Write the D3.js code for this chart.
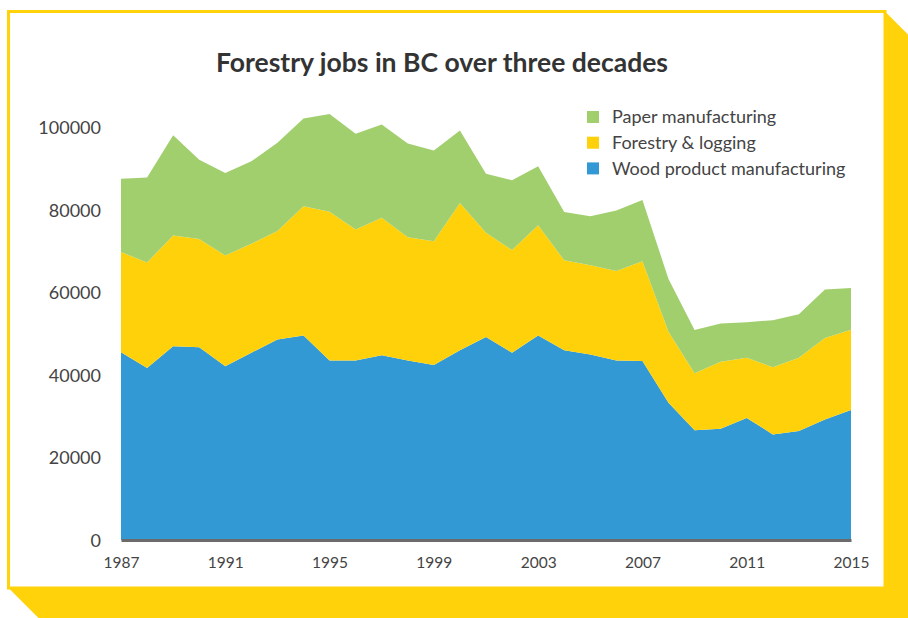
<!DOCTYPE html>
<html>
<head>
<meta charset="utf-8">
<script src="https://cdn.jsdelivr.net/npm/d3@7"></script>
<style>
  body { margin: 0; background: #fff; }
  svg { display: block; }
</style>
</head>
<body>
<div id="chart"></div>
<script>
// data
const years = [1987, 1988, 1989, 1990, 1991, 1992, 1993, 1994, 1995, 1996, 1997, 1998, 1999, 2000,
  2001, 2002, 2003, 2004, 2005, 2006, 2007, 2008, 2009, 2010, 2011, 2012, 2013, 2014, 2015];
const wood = [45500, 41700, 47000, 46700, 42100, 45400, 48600, 49600, 43500, 43500, 44800, 43500, 42400, 46000,
  49200, 45400, 49600, 46000, 45000, 43500, 43400, 33300, 26600, 27000, 29600, 25600, 26400, 29200, 31500];
const forestry = [24300, 25600, 26800, 26300, 26900, 26400, 26300, 31300, 36100, 31800, 33300, 29900, 30000, 35700,
  25300, 24900, 26700, 21800, 21600, 21700, 24200, 17200, 13800, 16200, 14600, 16300, 17800, 19800, 19500];
const paper = [17800, 20600, 24300, 19200, 20000, 20000, 21400, 21300, 23700, 23200, 22600, 22700, 22000, 17600,
  14300, 16900, 14300, 11700, 11900, 14700, 14800, 12800, 10500, 9300, 8600, 11400, 10500, 11700, 10100];
const seriesNames = ["Wood product manufacturing", "Forestry & logging", "Paper manufacturing"];
const yTicks = [0, 20000, 40000, 60000, 80000, 100000];
const xTicks = [1987, 1991, 1995, 1999, 2003, 2007, 2011, 2015];

const colors = {
  "Wood product manufacturing": "#3399d4",
  "Forestry & logging": "#fed10b",
  "Paper manufacturing": "#a2cf6e"
};

const width = 908, height = 618;

const svg = d3.select("#chart").append("svg")
  .attr("width", width)
  .attr("height", height);

// yellow frame + shadow
const bx0 = 8.5, by0 = 11.5, bx1 = 885, by1 = 588, d = 30;
svg.append("path")
  .attr("d", `M${bx0},${by0} L${bx1},${by0} L${bx1 + d},${by0 + d} L${bx1 + d},${by1 + d} L${bx0 + d},${by1 + d} L${bx0},${by1} Z`)
  .attr("fill", "#ffd20a");
svg.append("rect")
  .attr("x", bx0).attr("y", by0)
  .attr("width", bx1 - bx0).attr("height", by1 - by0)
  .attr("fill", "#fff")
  .attr("stroke", "#ffd20a")
  .attr("stroke-width", 3);

const x = d3.scaleLinear().domain([1987, 2015]).range([121, 851]);
const y = d3.scaleLinear().domain([0, 100000]).range([540, 127.5]);

const table = years.map((yr, i) => ({
  year: yr,
  "Wood product manufacturing": wood[i],
  "Forestry & logging": forestry[i],
  "Paper manufacturing": paper[i]
}));

const stack = d3.stack().keys(seriesNames);
const layers = stack(table);

const area = d3.area()
  .x(d => x(d.data.year))
  .y0(d => y(d[0]))
  .y1(d => y(d[1]));

svg.append("g").selectAll("path")
  .data(layers)
  .join("path")
  .attr("d", area)
  .attr("fill", d => colors[d.key]);

// axes
const font = "Lato, 'Open Sans', sans-serif";

const xAxis = svg.append("g")
  .attr("transform", `translate(0,${y(0)})`)
  .call(d3.axisBottom(x).tickValues(xTicks).tickFormat(d3.format("d")).tickSize(0).tickPadding(17));
xAxis.select(".domain").attr("stroke", "#6b6b6b").attr("stroke-width", 3);
xAxis.selectAll("text").attr("font-family", font).attr("font-size", 15.5).attr("fill", "#444");

const yAxis = svg.append("g")
  .attr("transform", `translate(101,0)`)
  .call(d3.axisLeft(y).tickValues(yTicks).tickFormat(d3.format("d")).tickSize(0).tickPadding(0));
yAxis.select(".domain").remove();
yAxis.selectAll("text").attr("font-family", font).attr("font-size", 18).attr("fill", "#444")
  .attr("dy", "0.36em");

// title
svg.append("text")
  .attr("x", 442).attr("y", 72)
  .attr("text-anchor", "middle")
  .attr("font-family", font)
  .attr("font-weight", "bold")
  .attr("font-size", 26.5)
  .attr("fill", "#333")
  .text("Forestry jobs in BC over three decades");

// legend, top to bottom
const legendOrder = ["Paper manufacturing", "Forestry & logging", "Wood product manufacturing"];
const legend = svg.append("g").selectAll("g")
  .data(legendOrder)
  .join("g")
  .attr("transform", (d, i) => `translate(587,${117 + i * 25.7})`);
legend.append("rect")
  .attr("x", 0).attr("y", -6)
  .attr("width", 12).attr("height", 12)
  .attr("fill", d => colors[d]);
legend.append("text")
  .attr("x", 25).attr("y", 0)
  .attr("dy", "0.35em")
  .attr("font-family", font)
  .attr("font-size", 18)
  .attr("fill", "#444")
  .text(d => d);
</script>
</body>
</html>
